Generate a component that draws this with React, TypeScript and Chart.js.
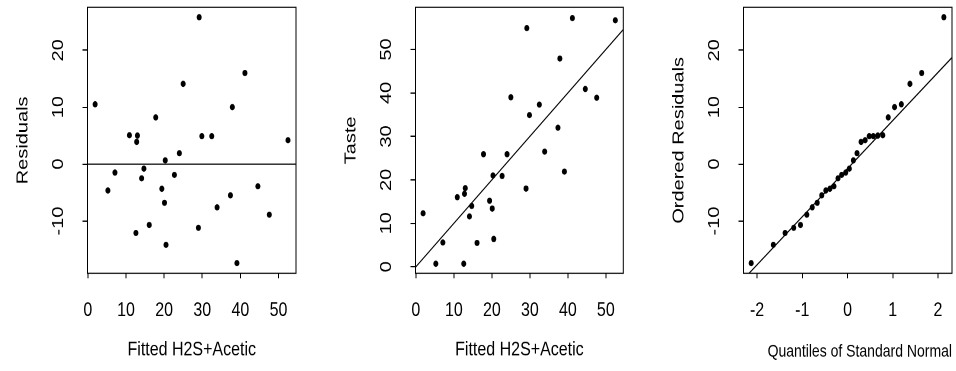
import React, { useEffect, useRef } from "react";
import { Chart, registerables, LinearScale } from "chart.js";

Chart.register(...registerables);

// ---------- data ----------
const FITTED = [1.9, 5.25, 7.1, 10.9, 13.0, 12.8, 12.6, 14.1, 14.7, 16.1, 17.8, 19.4, 20.1, 20.3, 20.5, 22.7, 24.0, 25.0, 29.0, 29.2, 29.9, 32.5, 33.9, 37.4, 37.9, 39.1, 41.2, 44.6, 47.6, 52.5];
const RESIDUALS = [10.5, -4.65, -1.5, 5.06, 5.0, 3.9, -12.1, -2.5, -0.8, -10.7, 8.2, -4.35, -6.8, 0.65, -14.2, -1.9, 1.9, 14.1, -11.2, 25.8, 4.9, 4.9, -7.6, -5.5, 10.0, -17.4, 16.0, -3.9, -8.9, 4.2];
const TASTE = [12.3, 0.7, 5.6, 16.0, 18.1, 16.8, 0.7, 11.6, 14.0, 5.5, 25.9, 15.2, 13.4, 21.0, 6.4, 20.9, 25.9, 39.0, 18.0, 54.9, 34.9, 37.3, 26.5, 32.0, 47.9, 21.9, 57.2, 40.9, 38.9, 56.7];
const NORMAL_QUANTILES = [-2.13, -1.64, -1.38, -1.19, -1.04, -0.9, -0.78, -0.67, -0.57, -0.48, -0.39, -0.3, -0.21, -0.13, -0.04, 0.04, 0.13, 0.21, 0.3, 0.39, 0.48, 0.57, 0.67, 0.78, 0.9, 1.04, 1.19, 1.38, 1.64, 2.13];
const ORDERED_RESIDUALS = [-17.4, -14.2, -12.1, -11.2, -10.7, -8.9, -7.6, -6.8, -5.5, -4.65, -4.35, -3.9, -2.5, -1.9, -1.5, -0.8, 0.65, 1.9, 3.9, 4.2, 4.9, 4.9, 5.0, 5.06, 8.2, 10.0, 10.5, 14.1, 16.0, 25.8];

const FITTED_TICKS = [0, 10, 20, 30, 40, 50];
const RESID_TICKS = [-10, 0, 10, 20];
const TASTE_TICKS = [0, 10, 20, 30, 40, 50];
const QUANTILE_TICKS = [-2, -1, 0, 1, 2];

const FITTED_RANGE = [-0.1, 54.6];
const RESID_RANGE = [-19.2, 27.55];
const TASTE_RANGE = [-1.5, 59.7];
const QUANTILE_RANGE = [-2.3, 2.31];

const ZERO_LINE = { intercept: 0, slope: 0 };
const IDENTITY_LINE = { intercept: 0, slope: 1 };
const QQ_LINE = { intercept: -0.8, slope: 8.45 };

const X_TITLE_FITTED = "Fitted H2S+Acetic";
const X_TITLE_QQ = "Quantiles of Standard Normal";
const Y_TITLE_RESID = "Residuals";
const Y_TITLE_TASTE = "Taste";
const Y_TITLE_QQ = "Ordered Residuals";

// ---------- layout ----------
const CANVAS_W = 300;
const CANVAS_H = 297; // logical height, stretched to 371 on screen
const CSS_H = 371;
const FONT = '"Liberation Sans", Arial, Helvetica, sans-serif';

class RotatedLabelScale extends LinearScale {
  static id = "rotatedLinear";
  drawLabels(chartArea: any) {
    const self: any = this;
    if (!self.options.ticks.display) return;
    const ctx = self.ctx;
    const items = self.getLabelItems(chartArea);
    for (const item of items) {
      const o = item.options;
      ctx.save();
      ctx.translate(o.translation[0], o.translation[1]);
      ctx.rotate(o.rotation);
      ctx.font = item.font.string;
      ctx.fillStyle = o.color;
      ctx.textAlign = "center";
      ctx.textBaseline = "middle";
      ctx.fillText(String(item.label), 0, 0);
      ctx.restore();
    }
  }
}
Chart.register(RotatedLabelScale as any);

const framePlugin = {
  id: "rframe",
  afterDatasetsDraw(chart: any) {
    const { ctx, chartArea: a } = chart;
    ctx.save();
    ctx.strokeStyle = "#000";
    ctx.lineWidth = 1;
    ctx.strokeRect(a.left, a.top, a.right - a.left, a.bottom - a.top);
    ctx.restore();
  },
};

type PanelSpec = {
  left: number;
  padRight: number;
  xs: number[];
  ys: number[];
  line: { intercept: number; slope: number };
  xRange: number[];
  yRange: number[];
  xTicks: number[];
  yTicks: number[];
  xTitle: string;
  yTitle: string;
  xTitleSize: number;
  xTitleAlign: "center" | "end";
};

const PANELS: PanelSpec[] = [
  {
    left: 0, padRight: 4, xs: FITTED, ys: RESIDUALS, line: ZERO_LINE,
    xRange: FITTED_RANGE, yRange: RESID_RANGE, xTicks: FITTED_TICKS, yTicks: RESID_TICKS,
    xTitle: X_TITLE_FITTED, yTitle: Y_TITLE_RESID, xTitleSize: 16, xTitleAlign: "center",
  },
  {
    left: 328, padRight: 4.7, xs: FITTED, ys: TASTE, line: IDENTITY_LINE,
    xRange: FITTED_RANGE, yRange: TASTE_RANGE, xTicks: FITTED_TICKS, yTicks: TASTE_TICKS,
    xTitle: X_TITLE_FITTED, yTitle: Y_TITLE_TASTE, xTitleSize: 16, xTitleAlign: "center",
  },
  {
    left: 656, padRight: 4, xs: NORMAL_QUANTILES, ys: ORDERED_RESIDUALS, line: QQ_LINE,
    xRange: QUANTILE_RANGE, yRange: RESID_RANGE, xTicks: QUANTILE_TICKS, yTicks: RESID_TICKS,
    xTitle: X_TITLE_QQ, yTitle: Y_TITLE_QQ, xTitleSize: 14, xTitleAlign: "end",
  },
];

const TOP_PAD = 5.84;
const Y_AXIS_W = 87.5;
const X_AXIS_H = 78.2;

function buildConfig(p: PanelSpec): any {
  const points = p.xs.map((x, i) => ({ x, y: p.ys[i] }));
  const lx = [p.xRange[0], p.xRange[1]];
  const linePts = lx.map((x) => ({ x, y: p.line.intercept + p.line.slope * x }));
  return {
    type: "scatter",
    data: {
      datasets: [
        {
          data: points,
          pointRadius: 2.5,
          pointBackgroundColor: "#000",
          pointBorderWidth: 0,
          pointBorderColor: "#000",
          clip: false,
        },
        {
          data: linePts,
          showLine: true,
          borderColor: "#000",
          borderWidth: 1,
          pointRadius: 0,
          fill: false,
          clip: 0,
        },
      ],
    },
    options: {
      animation: false,
      responsive: false,
      devicePixelRatio: 2,
      events: [],
      layout: { padding: { top: TOP_PAD, right: p.padRight, left: 0, bottom: 0 } },
      plugins: { legend: { display: false }, tooltip: { enabled: false } },
      scales: {
        x: {
          type: "linear",
          min: p.xRange[0],
          max: p.xRange[1],
          afterBuildTicks: (s: any) => { s.ticks = p.xTicks.map((value) => ({ value })); },
          afterFit: (s: any) => { s.height = X_AXIS_H; s.paddingLeft = 0; s.paddingRight = 0; },
          grid: { display: true, drawOnChartArea: false, drawTicks: true, tickLength: 4, tickColor: "#000", tickWidth: 1 },
          border: { display: false },
          ticks: {
            autoSkip: false, maxRotation: 0, minRotation: 0, padding: 16, color: "#000",
            font: { family: FONT, size: 16 },
            callback: (v: any) => String(v),
          },
          title: {
            display: true, text: p.xTitle, color: "#000", align: p.xTitleAlign,
            font: { family: FONT, size: p.xTitleSize },
            padding: { top: 0, bottom: 7.2 },
          },
        },
        y: {
          type: "rotatedLinear",
          min: p.yRange[0],
          max: p.yRange[1],
          afterBuildTicks: (s: any) => { s.ticks = p.yTicks.map((value) => ({ value })); },
          afterFit: (s: any) => { s.width = Y_AXIS_W; s.paddingTop = 0; s.paddingBottom = 0; },
          grid: { display: true, drawOnChartArea: false, drawTicks: true, tickLength: 5, tickColor: "#000", tickWidth: 1 },
          border: { display: false },
          ticks: {
            autoSkip: false, minRotation: 90, maxRotation: 90, padding: 24, color: "#000",
            font: { family: FONT, size: 16 },
            callback: (v: any) => String(v),
          },
          title: {
            display: true, text: p.yTitle, color: "#000",
            font: { family: FONT, size: 16 },
            padding: { top: 13.4, bottom: 0 },
          },
        },
      },
    },
    plugins: [framePlugin],
  };
}

function Panel({ spec }: { spec: PanelSpec }) {
  const ref = useRef<HTMLCanvasElement | null>(null);
  useEffect(() => {
    if (!ref.current) return;
    const chart = new Chart(ref.current, buildConfig(spec));
    return () => chart.destroy();
  }, [spec]);
  return (
    <canvas
      ref={ref}
      width={CANVAS_W}
      height={CANVAS_H}
      style={{ position: "absolute", left: spec.left, top: 0, width: CANVAS_W + "px", height: CSS_H + "px" }}
    />
  );
}

export default function App() {
  return (
    <div style={{ position: "absolute", left: 0, top: 0, width: 956, height: 371, background: "#fff", overflow: "hidden" }}>
      {PANELS.map((p, i) => (
        <Panel key={i} spec={p} />
      ))}
    </div>
  );
}
